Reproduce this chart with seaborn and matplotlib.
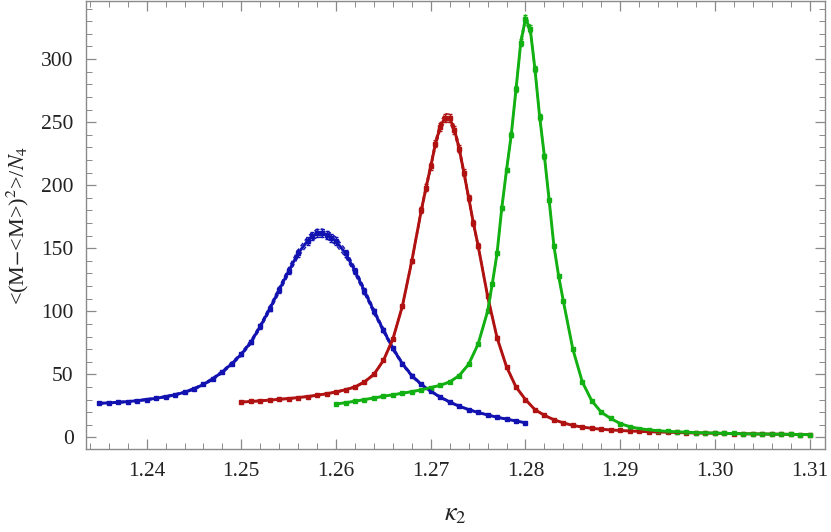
import numpy as np
import pandas as pd
import matplotlib
matplotlib.use("Agg")
import matplotlib.pyplot as plt
from matplotlib.ticker import MultipleLocator
import seaborn as sns

# ---- data ----
blue_k = [1.235, 1.236, 1.237, 1.238, 1.239, 1.240, 1.241, 1.242, 1.243, 1.244,
          1.245, 1.246, 1.247, 1.248, 1.249, 1.250, 1.251, 1.252, 1.253, 1.254,
          1.255, 1.256, 1.257, 1.2575, 1.258, 1.2585, 1.259, 1.2595, 1.260, 1.261,
          1.262, 1.263, 1.264, 1.265, 1.266, 1.267, 1.268, 1.269, 1.270, 1.271,
          1.272, 1.273, 1.274, 1.275, 1.276, 1.277, 1.278, 1.279, 1.280]
blue_v = [27.0, 27.4, 27.8, 28.4, 29.1, 30.0, 31.0, 32.3, 33.8, 35.8,
          38.5, 42.0, 46.5, 52.0, 58.5, 66.0, 75.5, 88.0, 102.0, 117.0,
          132.0, 146.0, 156.0, 159.6, 161.8, 162.0, 160.8, 158.5, 155.5, 146.0,
          132.0, 116.0, 100.0, 85.0, 70.5, 58.5, 49.0, 42.0, 36.5, 32.0,
          28.0, 24.8, 22.0, 19.8, 17.8, 16.0, 14.5, 13.0, 11.6]

red_k = [1.250, 1.251, 1.252, 1.253, 1.254, 1.255, 1.256, 1.257, 1.258, 1.259,
         1.260, 1.261, 1.262, 1.263, 1.264, 1.265, 1.266, 1.267, 1.268, 1.269,
         1.2695, 1.270, 1.2705, 1.271, 1.2715, 1.272, 1.2725, 1.273, 1.2735, 1.274,
         1.2745, 1.275, 1.276, 1.277, 1.278, 1.279,
         1.280, 1.281, 1.282, 1.283, 1.284, 1.285, 1.286, 1.287, 1.288, 1.289,
         1.290, 1.291, 1.292, 1.293, 1.294, 1.295, 1.296, 1.297, 1.298, 1.299,
         1.300, 1.301, 1.302, 1.303, 1.304, 1.305, 1.306, 1.307, 1.308, 1.309,
         1.310]
red_v = [28.0, 28.5, 29.0, 29.6, 30.2, 30.8, 31.6, 32.4, 33.4, 34.6,
         36.0, 37.8, 40.0, 44.0, 50.0, 61.0, 78.0, 104.0, 140.0, 180.0,
         198.0, 215.0, 233.0, 246.5, 253.5, 253.0, 244.0, 229.0, 210.0, 190.0,
         170.0, 152.0, 112.0, 79.0, 56.0, 40.0,
         30.0, 22.0, 17.5, 14.0, 11.5, 9.5, 8.2, 7.2, 6.5, 5.9,
         5.5, 5.1, 4.8, 4.5, 4.3, 4.1, 3.9, 3.7, 3.5, 3.4,
         3.3, 3.1, 3.0, 2.9, 2.8, 2.7, 2.6, 2.5, 2.4, 2.3,
         2.2]

green_k = [1.260, 1.261, 1.262, 1.263, 1.264, 1.265, 1.266, 1.267, 1.268, 1.269,
           1.270, 1.271, 1.272, 1.273, 1.274, 1.275, 1.276, 1.2765, 1.277, 1.2775,
           1.278, 1.2785, 1.279, 1.2795, 1.280, 1.2805, 1.281, 1.2815, 1.282, 1.2825,
           1.283, 1.2835, 1.284, 1.285, 1.286, 1.287, 1.288, 1.289,
           1.290, 1.291, 1.292, 1.293, 1.294, 1.295, 1.296, 1.297, 1.298, 1.299,
           1.300, 1.301, 1.302, 1.303, 1.304, 1.305, 1.306, 1.307, 1.308, 1.309,
           1.310]
green_v = [26.5, 27.5, 28.7, 30.0, 31.3, 32.6, 33.8, 35.0, 36.3, 37.7,
           39.5, 41.3, 44.0, 49.0, 58.0, 74.0, 100.0, 122.0, 146.0, 182.0,
           212.0, 240.0, 276.0, 313.0, 332.0, 324.0, 292.0, 254.0, 223.0, 188.0,
           152.0, 128.0, 108.0, 70.0, 44.0, 29.0, 20.0, 15.0,
           11.0, 8.5, 7.0, 6.0, 5.3, 4.8, 4.4, 4.1, 3.8, 3.6,
           3.4, 3.2, 3.1, 2.9, 2.8, 2.7, 2.6, 2.5, 2.4, 2.3,
           2.2]

rel_err = {"blue": 0.02, "red": 0.013, "green": 0.009}

x_ticks = [1.24, 1.25, 1.26, 1.27, 1.28, 1.29, 1.30, 1.31]
x_tick_labels = ["1.24", "1.25", "1.26", "1.27", "1.28", "1.29", "1.30", "1.31"]
y_ticks = [0, 50, 100, 150, 200, 250, 300]

# ---- styling ----
sns.set_theme(style="white")
plt.rcParams["font.family"] = ["Liberation Serif", "DejaVu Serif"]
plt.rcParams["mathtext.fontset"] = "stix"

colors = {"blue": "#1212b0", "red": "#b01212", "green": "#12b012"}
series = [("blue", blue_k, blue_v), ("red", red_k, red_v), ("green", green_k, green_v)]

fig = plt.figure(figsize=(8.31, 5.32), dpi=100)
ax = fig.add_axes([0.1035, 0.156, 0.889, 0.842])

for name, k, v in series:
    df = pd.DataFrame({"k": k, "v": v})
    e = np.asarray(v) * rel_err[name]
    c = colors[name]
    df["hi"] = df["v"] + e
    df["lo"] = df["v"] - e
    sns.lineplot(data=df, x="k", y="hi", ax=ax, color=c, lw=1.0,
                 linestyle=(0, (3, 2)), legend=False)
    sns.lineplot(data=df, x="k", y="lo", ax=ax, color=c, lw=1.0,
                 linestyle=(0, (3, 2)), legend=False)
    ax.errorbar(df["k"], df["v"], yerr=e, fmt="s", ms=2.6, color=c,
                ecolor=c, elinewidth=1.0, capsize=1.6, capthick=1.0, zorder=3)
    sns.lineplot(data=df, x="k", y="v", ax=ax, color=c, lw=2.1, legend=False,
                 zorder=4)

ax.set_xlim(1.2336, 1.3116)
ax.set_ylim(-9.2, 346)
ax.set_xticks(x_ticks)
ax.set_xticklabels(x_tick_labels)
ax.set_yticks(y_ticks)
ax.xaxis.set_minor_locator(MultipleLocator(0.002))
ax.yaxis.set_minor_locator(MultipleLocator(10))

frame = "#8a8a8a"
for s in ax.spines.values():
    s.set_color(frame)
    s.set_linewidth(1.0)
ax.tick_params(which="both", direction="in", top=True, right=True,
               bottom=True, left=True, color=frame, labelsize=15.5,
               labelcolor="#222222")
ax.tick_params(which="major", length=7, width=0.9, pad=9)
ax.tick_params(which="minor", length=4, width=0.7)

ax.set_xlabel(r"$\kappa_2$", fontsize=19, labelpad=17, color="#222222")
ax.set_ylabel(r"<(M$-$<M>)$^2$>/$N_4$", fontsize=16, labelpad=7, color="#222222")

fig.savefig("out.png", dpi=100)
